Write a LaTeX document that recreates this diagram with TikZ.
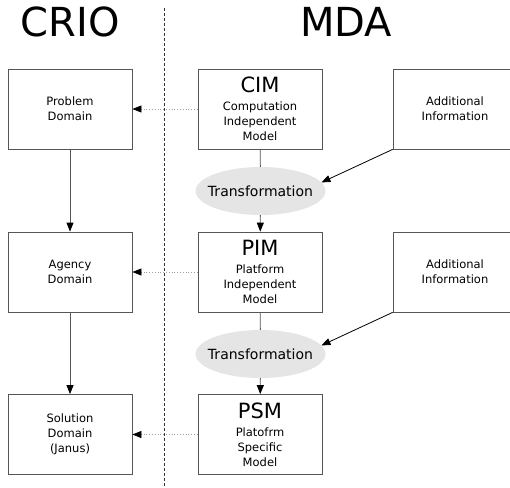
\documentclass[tikz,border=0pt]{standalone}
\usepackage{fontspec}
\setmainfont{DejaVu Sans}
\usetikzlibrary{arrows.meta,shapes.geometric}
\definecolor{edge}{HTML}{555555}
\definecolor{cloud}{HTML}{E5E5E5}
\newcommand{\modelfont}{\fontsize{21}{24}\selectfont}
\tikzset{
  blockbox/.style={draw=edge, line width=0.8pt, minimum width=124pt, minimum height=80pt,
    inner sep=0pt, align=center, font=\fontsize{11.5}{15}\selectfont},
  transf/.style={ellipse, fill=cloud, minimum width=130pt, minimum height=48pt, inner sep=0pt,
    font=\fontsize{14}{16}\selectfont},
  tip/.style={-{Triangle[length=9pt,width=7pt,color=black]}},
  flow/.style={draw=edge, line width=0.8pt, tip},
  plain/.style={draw=edge, line width=0.8pt},
  trace/.style={draw=gray!75, line width=0.8pt, dotted, tip},
  headline/.style={font=\fontsize{40}{44}\selectfont}
}
\begin{document}
\begin{tikzpicture}[x=1pt,y=-1pt]
\useasboundingbox (0,0) rectangle (510,487);
\clip (0,0) rectangle (510,487);

% column titles
\node[headline] (crio) at (70,22) {CRIO};
\node[headline] (mda) at (346,22) {MDA};

% separator
\coordinate (septop) at (164,8);
\coordinate (sepbot) at (164,487);
\draw[black!80, line width=0.8pt, dash pattern=on 3pt off 2pt] (septop) -- (sepbot);

% CRIO side
\node[blockbox] (prob) at (70,109) {Problem\\Domain};
\node[blockbox] (agency) at (70,272) {Agency\\Domain};
\node[blockbox] (sol) at (70,434.5) {Solution\\Domain\\(Janus)};

% MDA side
\node[blockbox] (cim) at (260,109) {{\modelfont CIM}\\[3pt]Computation\\Independent\\Model};
\node[blockbox] (pim) at (260,272) {{\modelfont PIM}\\[3pt]Platform\\Independent\\Model};
\node[blockbox] (psm) at (260,434.5) {{\modelfont PSM}\\[3pt]Platofrm\\Specific\\Model};

\node[blockbox] (add1) at (455,109) {Additional\\Information};
\node[blockbox] (add2) at (455,272) {Additional\\Information};

\node[transf] (tr1) at (260.5,191) {\makebox[0pt]{Transformation}};
\node[transf] (tr2) at (260.5,354) {\makebox[0pt]{Transformation}};

% CRIO refinement
\draw[flow] (prob) -- (agency);
\draw[flow] (agency) -- (sol);

% MDA chain
\draw[plain] (cim) -- (tr1);
\draw[flow] (tr1) -- (pim);
\draw[plain] (pim) -- (tr2);
\draw[flow] (tr2) -- (psm);
\draw[flow, draw=black] (add1.south west) -- (tr1.8);
\draw[flow, draw=black] (add2.south west) -- (tr2.8);

% correspondences
\draw[trace] (cim.west) -- (prob.east);
\draw[trace] (pim.west) -- (agency.east);
\draw[trace] (psm.west) -- (sol.east);
\end{tikzpicture}
\end{document}
